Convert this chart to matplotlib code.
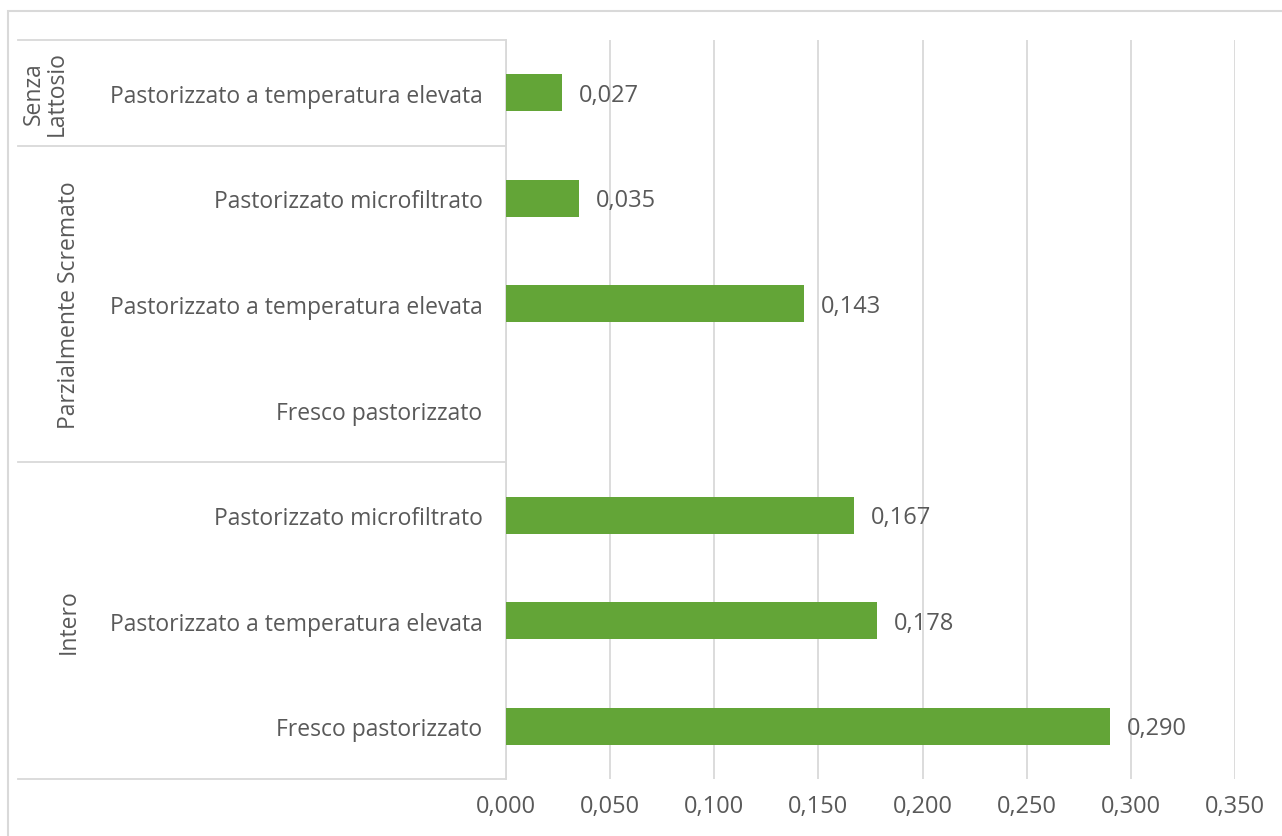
import matplotlib.pyplot as plt
import matplotlib.transforms as mtransforms
from matplotlib.lines import Line2D
from matplotlib.patches import Rectangle

# categories from top to bottom
categories = ["Pastorizzato a temperatura elevata",
              "Pastorizzato microfiltrato",
              "Pastorizzato a temperatura elevata",
              "Fresco pastorizzato",
              "Pastorizzato microfiltrato",
              "Pastorizzato a temperatura elevata",
              "Fresco pastorizzato"]
values = [0.027, 0.035, 0.143, None, 0.167, 0.178, 0.290]
groups = ["Senza\nLattosio", "Parzialmente Scremato", "Intero"]
group_sizes = [1, 3, 3]
xticks = [0.0, 0.05, 0.10, 0.15, 0.20, 0.25, 0.30, 0.35]

plt.rcParams['font.family'] = ['Open Sans', 'DejaVu Sans']
text_col = '#595959'
grid_col = '#d9d9d9'
bar_col = '#63a537'
fs_cat = 16.5
fs_num = 17

W, H = 1282, 837
fig = plt.figure(figsize=(W / 100, H / 100), dpi=100)
ax = fig.add_axes([506 / W, 1 - 780 / H, (1235 - 506) / W, (780 - 41) / H])

ypos = list(range(len(categories)))
for y, v in zip(ypos, values):
    if v is None:
        continue
    ax.barh(y, v, height=0.35, color=bar_col, zorder=3)
    ax.annotate('{:.3f}'.format(v).replace('.', ','), (v, y), xytext=(17, -2),
                textcoords='offset pixels', va='center', ha='left',
                fontsize=fs_num, color=text_col)

ax.set_ylim(len(categories) - 0.5, -0.5)
ax.set_xlim(0, 0.35)
ax.set_xticks(xticks)
ax.set_xticklabels(['{:.3f}'.format(t).replace('.', ',') for t in xticks])
ax.set_yticks(ypos)
ax.set_yticklabels(categories)
ax.tick_params(axis='y', length=0, pad=17, labelsize=fs_cat, labelcolor=text_col)
ax.tick_params(axis='x', length=0, pad=11, labelsize=fs_num, labelcolor=text_col)
ax.grid(axis='x', color=grid_col, linewidth=1.3, zorder=0)
for s in ['top', 'right', 'bottom']:
    ax.spines[s].set_visible(False)
ax.spines['left'].set_color(grid_col)
ax.spines['left'].set_linewidth(1.3)

# multi-level category axis: separators and group labels
trans = mtransforms.blended_transform_factory(fig.transFigure, ax.transData)
group_x = [45, 69, 69]
start = -0.5
bounds = [start]
for gname, n, gx in zip(groups, group_sizes, group_x):
    mid = start + n / 2
    ax.text(gx / W, mid, gname, transform=trans, rotation=90, ha='center',
            va='center', fontsize=fs_cat, color=text_col, linespacing=0.95)
    start += n
    bounds.append(start)
for b in bounds:
    fig.add_artist(Line2D([18 / W, 506 / W], [b, b], transform=trans,
                          color=grid_col, linewidth=1.3))

# outer chart border (cropped screenshot)
fig.add_artist(Rectangle((8 / W, -0.1), 1.2, 0.1 + 1 - 12 / H,
                         transform=fig.transFigure, fill=False,
                         edgecolor=grid_col, linewidth=1.5))

fig.savefig('out.png', dpi=100)
